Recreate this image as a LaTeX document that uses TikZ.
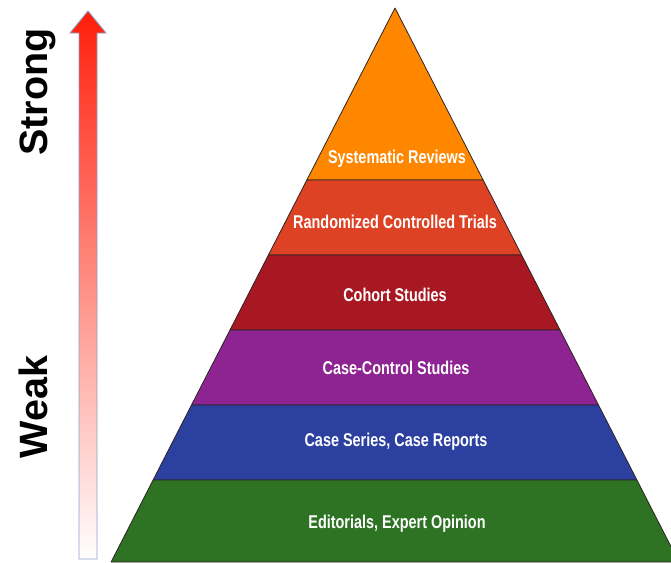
\documentclass[tikz,border=0pt]{standalone}
\usepackage{fontspec}
\setmainfont{Liberation Sans}
\newfontfamily\narrowfont[FakeStretch=0.78]{Liberation Sans}
\definecolor{cSR}{RGB}{255,135,0}
\definecolor{cRCT}{RGB}{222,66,36}
\definecolor{cCoh}{RGB}{168,24,34}
\definecolor{cCC}{RGB}{142,36,146}
\definecolor{cCS}{RGB}{44,64,160}
\definecolor{cEd}{RGB}{46,114,36}
\definecolor{cArrowTop}{RGB}{255,30,10}
\definecolor{cArrowEdge}{RGB}{140,160,200}
\definecolor{cEdge}{RGB}{45,35,35}
\begin{document}
\begin{tikzpicture}[x=1pt,y=-1pt,
  band/.style={draw=cEdge,line width=0.8pt,line join=round},
  bandlabel/.style={text=white,font=\narrowfont\bfseries\fontsize{18.5}{20}\selectfont,inner sep=0pt},
  sidelabel/.style={font=\bfseries\fontsize{39.5}{42}\selectfont,rotate=90,anchor=base,inner sep=0pt}]
\useasboundingbox (0,0) rectangle (671,562);
\clip (0,0) rectangle (671,562);
% pyramid bands
\path[band,fill=cSR]  (395,8) -- (483.15,180) -- (306.85,180) -- cycle;
\path[band,fill=cRCT] (306.85,180) -- (483.15,180) -- (521.6,255) -- (268.4,255) -- cycle;
\path[band,fill=cCoh] (268.4,255) -- (521.6,255) -- (560.0,330) -- (230.0,330) -- cycle;
\path[band,fill=cCC]  (230.0,330) -- (560.0,330) -- (598.5,405) -- (191.5,405) -- cycle;
\path[band,fill=cCS]  (191.5,405) -- (598.5,405) -- (636.9,480) -- (153.1,480) -- cycle;
\path[band,fill=cEd]  (153.1,480) -- (636.9,480) -- (678.9,562) -- (111.1,562) -- cycle;
% labels
\node[bandlabel] (sr)  at (397,159) {Systematic Reviews};
\node[bandlabel] (rct) at (395,222) {Randomized Controlled Trials};
\node[bandlabel] (coh) at (395,295) {Cohort Studies};
\node[bandlabel] (cc)  at (396,368) {Case-Control Studies};
\node[bandlabel] (cs)  at (396,442) {Case Series, Case Reports};
\node[bandlabel] (ed)  at (397,524) {Editorials, Expert Opinion};
% arrow
\path[draw=cArrowEdge,line width=0.9pt,line join=miter,top color=cArrowTop,bottom color=white]
  (88,11) -- (106,33) -- (97,33) -- (97,559) -- (79,559) -- (79,33) -- (70,33) -- cycle;
\node[sidelabel] (strong) at (47,92) {Strong};
\node[sidelabel] (weak) at (47,407) {Weak};
\end{tikzpicture}
\end{document}
